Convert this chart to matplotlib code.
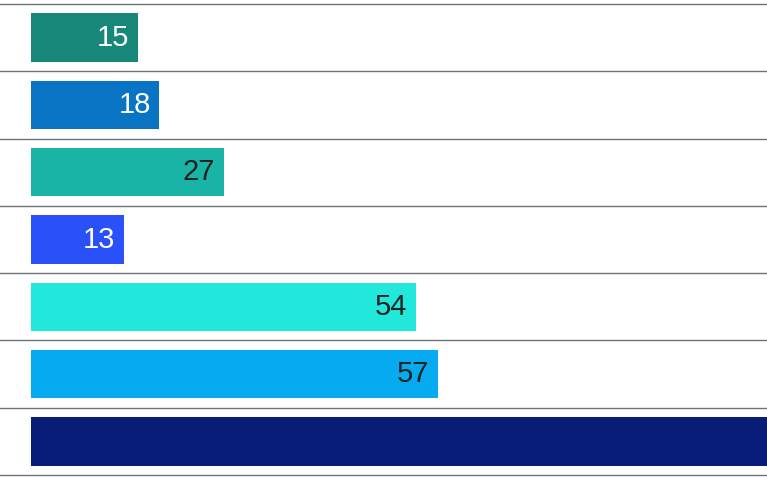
import matplotlib.pyplot as plt

values = [15, 18, 27, 13, 54, 57, 120]
colors = ['#17877a', '#0a74c4', '#1ab4a6', '#2a50fa', '#22e8dc', '#06aaf0', '#081d78']
label_colors = ['white', 'white', '#222222', 'white', '#222222', '#222222', 'white']

fig = plt.figure(figsize=(7.67, 4.80), dpi=100)
# axes: x=31..767 px, y=4..475 px
ax = fig.add_axes([31 / 767, 5 / 480, 736 / 767, 471 / 480])
n = len(values)
ypos = list(range(n))
ax.barh(ypos, values, height=0.72, color=colors)
for y, v, c in zip(ypos, values, label_colors):
    # the last bar's label lies outside the visible area, as in the reference
    ax.text(v - 1.2, y, str(v), ha='right', va='center', fontsize=21,
            color=c, family='Liberation Sans', clip_on=True)
ax.set_xlim(0, 103.2)
ax.set_ylim(n - 0.5, -0.5)
for y in [i - 0.5 for i in range(n + 1)]:
    ax.axhline(y, xmin=-31 / 736, xmax=1, color='#6e7378', lw=1, clip_on=False)
ax.axis('off')
fig.savefig('out.png')
